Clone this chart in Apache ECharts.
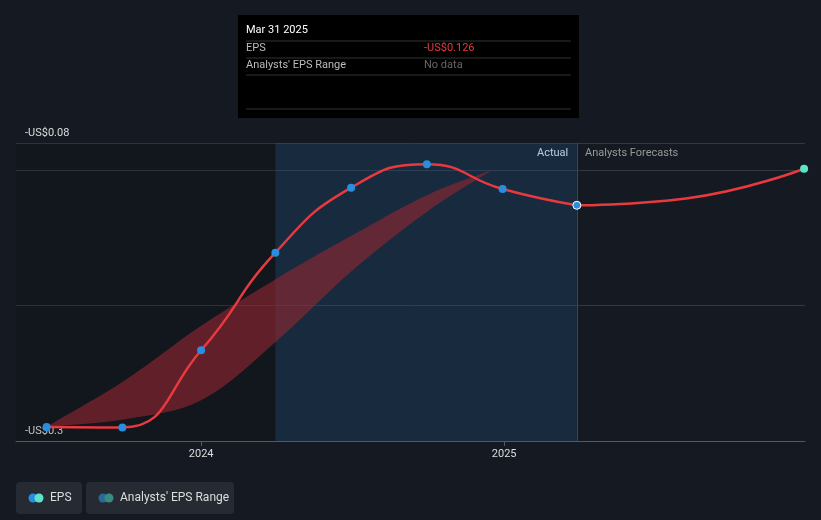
<!DOCTYPE html><html><head><meta charset="utf-8"><script src="https://cdn.jsdelivr.net/npm/echarts@6/dist/echarts.min.js"></script>
<style>body{margin:0;background:#151a22}#c{width:821px;height:520px}</style></head><body><div id="c"></div><script>
const epsX=[2023.49,2023.74,2024.0,2024.245,2024.495,2024.745,2024.995,2025.24];
const epsY=[-0.2896,-0.290,-0.233,-0.161,-0.113,-0.0956,-0.114,-0.126];
const fcX=[2025.24,2025.6,2025.99];
const fcY=[-0.126,-0.121,-0.099];
const bandX=[2023.49,2023.75,2024.0,2024.25,2024.5,2024.75,2024.96];
const bandLow=[-0.2896,-0.284,-0.27,-0.226,-0.174,-0.13,-0.1];
const bandHigh=[-0.2896,-0.255,-0.215,-0.18,-0.148,-0.118,-0.1];
const yLabels={'-0.3':'-US$0.3','-0.08':'-US$0.08'};
const ch=echarts.init(document.getElementById('c'));
const F='Roboto, sans-serif';
ch.setOption({backgroundColor:'#151a22',animation:false,
grid:{left:16,right:16,top:143,bottom:79},
xAxis:{type:'value',min:2023.389,max:2025.993,axisLine:{lineStyle:{color:'#555a62'}},splitLine:{show:false},
 axisTick:{customValues:[2024,2025],lineStyle:{color:'#555a62'}},axisLabel:{customValues:[2024,2025],color:'#ddd',fontFamily:F,fontSize:11,formatter:v=>String(Math.round(v))}},
yAxis:{type:'value',min:-0.3,max:-0.08,interval:0.1,axisLine:{show:false},axisTick:{show:false},
 splitLine:{lineStyle:{color:'#333942'}},
 axisLabel:{inside:true,verticalAlign:'bottom',margin:9,padding:[0,0,4,0],color:'#ddd',fontFamily:F,fontSize:11,showMaxLabel:true,
 formatter:v=>{const k=String(Math.round(v*100)/100);return yLabels[k]||'';}}},
series:[
{type:'custom',data:[[0,0]],silent:true,z:1,
 renderItem:(p,api)=>{
  const up=bandX.map((x,i)=>api.coord([x,bandHigh[i]]));
  const lo=bandX.map((x,i)=>api.coord([x,bandLow[i]])).reverse();
  return {type:'polygon',shape:{points:up.concat(lo),smooth:0.35},style:{fill:'rgba(150,40,50,0.6)'}};
 },
 markArea:{silent:true,data:[[{xAxis:2023.389,itemStyle:{color:'rgba(0,0,0,0.12)'}},{xAxis:2024.245}],[{xAxis:2024.245,itemStyle:{color:'rgba(30,80,130,0.3)'}},{xAxis:2025.24}]]},
 markLine:{silent:true,symbol:'none',label:{show:false},lineStyle:{color:'#2a4a6a',type:'solid',width:1},data:[{xAxis:2025.24}]}},
{type:'line',data:epsX.map((x,i)=>[x,epsY[i]]),smooth:true,z:3,symbol:'circle',symbolSize:8,lineStyle:{color:'#e8393f',width:2.5},itemStyle:{color:'#2a8ee0'}},
{type:'line',data:fcX.map((x,i)=>[x,fcY[i]]),smooth:true,z:3,symbol:'none',lineStyle:{color:'#e8393f',width:2.5},
 markPoint:{symbol:'circle',symbolSize:8,label:{show:false},data:[{coord:[fcX[0],fcY[0]],itemStyle:{color:'#2a8ee0',borderColor:'#fff',borderWidth:1}},{coord:[fcX[2],fcY[2]],itemStyle:{color:'#5de3c8'}}]}}
],
graphic:[
{type:'text',left:537,top:148,style:{text:'Actual',fill:'#fff',font:'11px '+F}},
{type:'text',left:585,top:148,style:{text:'Analysts Forecasts',fill:'#999',font:'11px '+F}},
{type:'group',left:238,top:15,children:[
 {type:'rect',shape:{width:341,height:103},style:{fill:'#000'}},
 {type:'text',left:8,top:10,style:{text:'Mar 31 2025',fill:'#fff',font:'11px '+F}},
 {type:'line',shape:{x1:8,y1:26,x2:333,y2:26},style:{stroke:'#333'}},
 {type:'text',left:8,top:28,style:{text:'EPS',fill:'#bbb',font:'11px '+F}},
 {type:'text',left:186,top:28,style:{text:'-US$0.126',fill:'#e8393f',font:'11px '+F}},
 {type:'line',shape:{x1:8,y1:43,x2:333,y2:43},style:{stroke:'#333'}},
 {type:'text',left:8,top:45,style:{text:"Analysts' EPS Range",fill:'#bbb',font:'11px '+F}},
 {type:'text',left:186,top:45,style:{text:'No data',fill:'#666',font:'11px '+F}},
 {type:'line',shape:{x1:8,y1:60,x2:333,y2:60},style:{stroke:'#333'}},
 {type:'line',shape:{x1:8,y1:94,x2:333,y2:94},style:{stroke:'#333'}}
]},
{type:'group',left:16,top:482,children:[
 {type:'rect',shape:{width:66,height:32,r:4},style:{fill:'#262b33'}},
 {type:'circle',shape:{cx:17,cy:16,r:4.5},style:{fill:'#2a8ee0'}},
 {type:'circle',shape:{cx:23,cy:16,r:4.5},style:{fill:'#5de3c8'}},
 {type:'text',left:34,top:10,style:{text:'EPS',fill:'#ddd',font:'12px '+F}},
 {type:'rect',shape:{x:70,width:148,height:32,r:4},style:{fill:'#262b33'}},
 {type:'circle',shape:{cx:87,cy:16,r:4.5},style:{fill:'#2a6a9a'}},
 {type:'circle',shape:{cx:93,cy:16,r:4.5},style:{fill:'#3a8a80'}},
 {type:'text',left:104,top:10,style:{text:"Analysts' EPS Range",fill:'#ddd',font:'12px '+F}}
]}
]});
</script></body></html>
